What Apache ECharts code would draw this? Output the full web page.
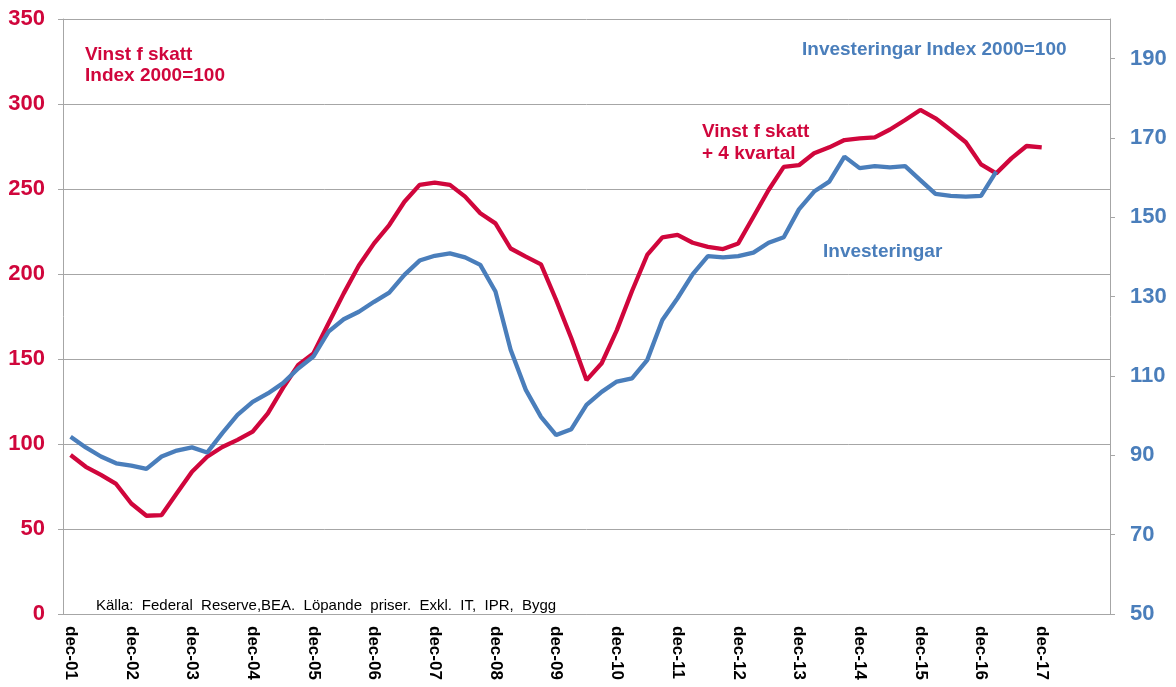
<!DOCTYPE html>
<html>
<head>
<meta charset="utf-8">
<title>Vinst f skatt och investeringar</title>
<script src="https://cdn.jsdelivr.net/npm/echarts@6/dist/echarts.min.js"></script>
<style>
    html, body { margin: 0; padding: 0; background: #fff; }
    #chart { width: 1176px; height: 687px; }
</style>
</head>
<body>
<div id="chart"></div>
<script>
// kvartal, dec-01 .. dec-18
var quarters = [
    'dec-01', 'mar-02', 'jun-02', 'sep-02', 'dec-02', 'mar-03', 'jun-03', 'sep-03',
    'dec-03', 'mar-04', 'jun-04', 'sep-04', 'dec-04', 'mar-05', 'jun-05', 'sep-05',
    'dec-05', 'mar-06', 'jun-06', 'sep-06', 'dec-06', 'mar-07', 'jun-07', 'sep-07',
    'dec-07', 'mar-08', 'jun-08', 'sep-08', 'dec-08', 'mar-09', 'jun-09', 'sep-09',
    'dec-09', 'mar-10', 'jun-10', 'sep-10', 'dec-10', 'mar-11', 'jun-11', 'sep-11',
    'dec-11', 'mar-12', 'jun-12', 'sep-12', 'dec-12', 'mar-13', 'jun-13', 'sep-13',
    'dec-13', 'mar-14', 'jun-14', 'sep-14', 'dec-14', 'mar-15', 'jun-15', 'sep-15',
    'dec-15', 'mar-16', 'jun-16', 'sep-16', 'dec-16', 'mar-17', 'jun-17', 'sep-17',
    'dec-17', 'mar-18', 'jun-18', 'sep-18', 'dec-18'
];

// Vinst f skatt + 4 kvartal, index 2000=100 (vänster axel)
var vinst = [
    93.5, 86.6, 81.8, 76.5, 65, 57.8, 58.2, 71,
    83.7, 92.5, 98.2, 102.4, 107.3, 118, 133, 146.5,
    153.3, 171, 188.6, 205, 218, 228.8, 242.5, 252.4,
    253.7, 252.4, 245.5, 235.7, 229.8, 215, 210.2, 205.7,
    184.7, 162.2, 137.6, 147.5, 167, 190, 211.2, 221.6,
    223, 218.4, 216, 214.7, 218, 233.7, 249.4, 263,
    264, 271, 274.5, 278.8, 279.8, 280.4, 285, 290.6,
    296.5, 291.6, 284.7, 277.5, 264.5, 259.2, 268, 275.3,
    274.5
];

// Investeringar, index 2000=100 (höger axel)
var invest = [
    94.7, 92.0, 89.7, 88.0, 87.4, 86.6, 89.7, 91.2,
    92.0, 90.7, 95.6, 100.2, 103.5, 105.6, 108.2, 111.9,
    114.9, 121.2, 124.3, 126.2, 128.7, 131.0, 135.5, 139.1,
    140.3, 140.9, 139.9, 138, 131.3, 116.6, 106.5, 99.7,
    95.1, 96.6, 102.7, 106, 108.6, 109.4, 114, 124.1,
    129.6, 135.7, 140.2, 139.9, 140.2, 141.1, 143.6, 145,
    152, 156.5, 159, 165.3, 162.4, 162.9, 162.6, 162.9,
    159.4, 155.9, 155.4, 155.2, 155.4, 161.5
];

var leftTicks = { min: 0, max: 350, step: 50 };
var rightTicks = { min: 50, max: 200, step: 20 };

var RED = '#D0063C';
var BLUE = '#4A7EBB';
var GREY = '#A6A6A6';
var FONT = '"Liberation Sans", Arial, sans-serif';

var myChart = echarts.init(document.getElementById('chart'));

function note(x, y, text, color, size, weight) {
    return {
        type: 'text',
        left: x,
        top: y,
        style: {
            text: text,
            fill: color,
            font: (weight || 'bold') + ' ' + size + 'px ' + FONT,
            textVerticalAlign: 'middle'
        }
    };
}

myChart.setOption({
    animation: false,
    backgroundColor: '#fff',
    grid: { left: 63, right: 66, top: 19, bottom: 73 },
    xAxis: {
        type: 'category',
        data: quarters,
        boundaryGap: true,
        axisLine: { lineStyle: { color: GREY, width: 1 } },
        axisTick: { interval: 3, length: 5, lineStyle: { color: GREY } },
        axisLabel: {
            interval: function (i) { return i % 4 === 0 && i < 68; },
            rotate: -90,
            margin: 12,
            color: '#000',
            fontSize: 17,
            fontWeight: 'bold',
            fontFamily: FONT
        },
        splitLine: { show: false }
    },
    yAxis: [{
        type: 'value',
        position: 'left',
        min: leftTicks.min,
        max: leftTicks.max,
        interval: leftTicks.step,
        axisLine: { show: true, lineStyle: { color: GREY } },
        axisTick: { show: true, length: 5, lineStyle: { color: GREY } },
        axisLabel: {
            color: RED,
            fontSize: 22,
            fontWeight: 'bold',
            fontFamily: FONT,
            margin: 18
        },
        splitLine: { show: true, lineStyle: { color: GREY, width: 1 } }
    }, {
        type: 'value',
        position: 'right',
        min: rightTicks.min,
        max: rightTicks.max,
        interval: rightTicks.step,
        axisLine: { show: true, lineStyle: { color: GREY } },
        axisTick: { show: true, length: 5, lineStyle: { color: GREY } },
        axisLabel: {
            color: BLUE,
            fontSize: 22,
            fontWeight: 'bold',
            fontFamily: FONT,
            margin: 20,
            showMaxLabel: false
        },
        splitLine: { show: false }
    }],
    series: [{
        name: 'Vinst f skatt + 4 kvartal',
        type: 'line',
        yAxisIndex: 0,
        data: vinst,
        symbol: 'none',
        lineStyle: { color: RED, width: 4.3 },
        itemStyle: { color: RED }
    }, {
        name: 'Investeringar',
        type: 'line',
        yAxisIndex: 1,
        data: invest,
        symbol: 'none',
        lineStyle: { color: BLUE, width: 4.3 },
        itemStyle: { color: BLUE }
    }],
    graphic: [
        note(85, 45.5, 'Vinst f skatt', RED, 19),
        note(85, 66.5, 'Index 2000=100', RED, 19),
        note(702, 122, 'Vinst f skatt', RED, 19),
        note(702, 144, '+ 4 kvartal', RED, 19),
        note(802, 40, 'Investeringar Index 2000=100', BLUE, 19),
        note(823, 242, 'Investeringar', BLUE, 19),
        note(96, 598, 'Källa:  Federal  Reserve,BEA.  Löpande  priser.  Exkl.  IT,  IPR,  Bygg', '#000', 15, 'normal')
    ]
});
</script>
</body>
</html>
